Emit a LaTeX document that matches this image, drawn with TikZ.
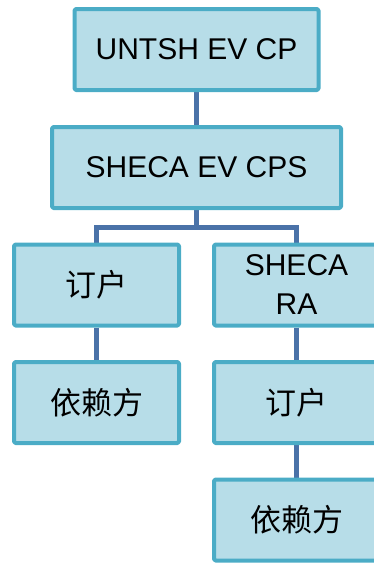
\documentclass[tikz,border=0pt]{standalone}
\usepackage{fontspec}
\setmainfont{Liberation Sans}
\newfontfamily\cjk{Noto Sans CJK SC}
\usetikzlibrary{backgrounds}
\definecolor{boxcyan}{RGB}{75,172,198}
\definecolor{boxfill}{RGB}{183,221,232}
\definecolor{linkblue}{RGB}{74,114,168}

\begin{document}
\begin{tikzpicture}[x=1pt,y=-1pt,line join=round,
    box/.style={draw=boxcyan,fill=boxfill,line width=4pt,rounded corners=1.5pt,
        minimum height=81pt,inner sep=2pt,align=center,
        font=\fontsize{30}{39}\selectfont},
    zh/.style={font=\fontsize{31}{39}\selectfont\cjk},
    link/.style={draw=linkblue,line width=5pt}]
    \def\leftx{96.5}
    \def\rightx{296.5}
    \def\colwidth{165pt}
    \useasboundingbox (0,0) rectangle (374,563);
    % top of the tree
    \node[box,minimum width=244pt] (cp) at (196.5,49.5) {UNTSH EV CP};
    \node[box,minimum width=289pt] (cps) at (196.5,167.5) {SHECA EV CPS};
    % left branch
    \node[box,zh,minimum width=\colwidth] (subL) at (\leftx,285) {订户};
    \node[box,zh,minimum width=\colwidth] (relyL) at (\leftx,402.5) {依赖方};
    % right branch
    \node[box,minimum width=\colwidth] (ra) at (\rightx,285) {SHECA\\RA};
    \node[box,zh,minimum width=\colwidth] (subR) at (\rightx,402.5) {订户};
    \node[box,zh,minimum width=\colwidth] (relyR) at (\rightx,520) {依赖方};
    % connectors
    \coordinate (fork) at (196.5,227);
    \begin{scope}[on background layer]
        \draw[link] (cp) -- (cps);
        \draw[link] (cps) -- (fork);
        \draw[link] (subL.center) |- (fork) -| (ra.center);
        \draw[link] (subL) -- (relyL);
        \draw[link] (ra) -- (subR);
        \draw[link] (subR) -- (relyR);
    \end{scope}
\end{tikzpicture}
\end{document}
